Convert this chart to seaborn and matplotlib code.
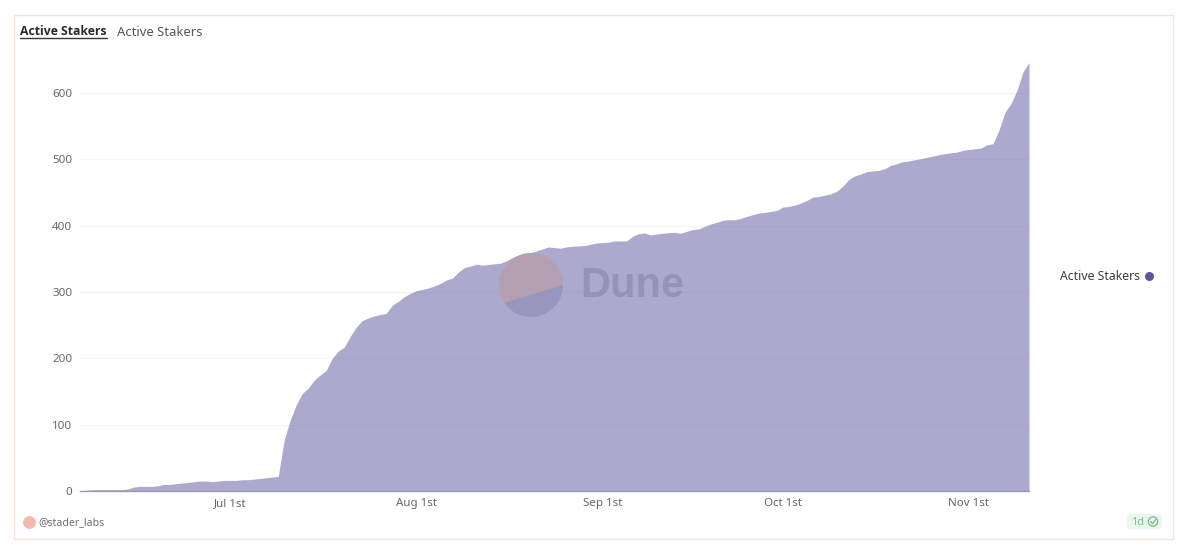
import numpy as np
import pandas as pd
import seaborn as sns
import matplotlib.dates as mdates
from matplotlib import pyplot as plt
from matplotlib.patches import Rectangle, FancyBboxPatch

# daily values, starting Jun 6th
start_date = "2022-06-06"
stakers = [
    0, 1, 2, 2, 2, 2, 2, 2, 3, 6, 7, 7, 7, 8, 10, 10, 11, 12, 13, 14, 15, 15, 14, 15, 16,
    16, 16, 17, 17, 18, 19, 20, 21, 22, 77, 107, 130, 147, 155, 167, 175, 182, 200, 211, 217,
    233, 247, 257, 261, 264, 266, 268, 280, 286, 293, 298,
    302, 304, 306, 309, 313, 318, 321, 330, 337, 339, 342, 340.5, 341.5, 342.5, 343.5, 347,
    352, 355, 358, 359, 362, 365, 368, 367, 366, 368, 369, 369.5, 370, 372, 374,
    374.5, 375, 377, 377, 377, 384, 388, 389, 386, 387.5, 388.5, 389.5, 390, 388.5, 391.5,
    394, 395, 399, 402.5, 405, 408, 409, 409, 411, 414, 416.5, 419, 420, 421.5, 423,
    428, 429, 431, 434, 438, 443, 444, 446, 448, 452, 459.5, 469.5, 475, 478, 481.5, 482.5,
    483.5, 486, 491, 493.5, 496.5, 497.5, 499.5, 501, 503, 505, 507, 508.5, 510, 511, 513.5,
    515, 516, 517, 522, 523.5, 544, 571, 584, 604, 632, 646,
]
y_ticks = [0, 100, 200, 300, 400, 500, 600]
x_tick_dates = ["2022-07-01", "2022-08-01", "2022-09-01", "2022-10-01", "2022-11-01"]
x_tick_labels = ["Jul 1st", "Aug 1st", "Sep 1st", "Oct 1st", "Nov 1st"]
series_name = "Active Stakers"

W, H = 1188, 553
PURPLE = "#5b55a0"
GREY = "#666666"

sns.set_theme(style="white")
plt.rcParams["font.family"] = ["Noto Sans", "DejaVu Sans"]

df = pd.DataFrame({
    "date": pd.date_range(start_date, periods=len(stakers), freq="D"),
    "stakers": stakers,
})

fig = plt.figure(figsize=(W / 100, H / 100), dpi=100, facecolor="white")
ax = fig.add_axes([80 / W, (H - 491) / H, 949 / W, 443 / H])

sns.lineplot(data=df, x="date", y="stakers", color=PURPLE, linewidth=0, ax=ax)
ax.fill_between(df["date"], df["stakers"], color=PURPLE, alpha=0.5, linewidth=0, zorder=2)

ax.set_xlim(df["date"].iloc[0], df["date"].iloc[-1])
ax.set_ylim(0, 443 / 0.6633)
ax.set_xticks(mdates.date2num(pd.to_datetime(x_tick_dates)))
ax.set_xticklabels(x_tick_labels)
ax.set_yticks(y_ticks)
ax.set_xlabel("")
ax.set_ylabel("")
ax.tick_params(axis="both", length=0, labelsize=8.3, labelcolor=GREY)
ax.tick_params(axis="x", pad=5)
ax.tick_params(axis="y", pad=5.5)
ax.grid(axis="y", color="#f5f4f1", linewidth=0.8, zorder=1)
ax.set_axisbelow(True)
sns.despine(ax=ax, left=True, top=True, right=True)
ax.spines["bottom"].set_color("#9a98b2")
ax.spines["bottom"].set_linewidth(1.0)

# card frame, tabs, watermark and footer go on an overlay in pixel coordinates
over = fig.add_axes([0, 0, 1, 1], facecolor="none")
over.set_xlim(0, W)
over.set_ylim(H, 0)
over.axis("off")

over.add_patch(Rectangle((13.5, 14.5), 1159, 524.5, fill=False, edgecolor="#f9e2de", linewidth=1))

over.text(20, 31.5, series_name, fontsize=8.8, fontweight="bold", family="Open Sans",
          color="#2b2b2b", va="center")
over.plot([20, 107], [37.5, 37.5], color="#3a3a3a", linewidth=1)
over.text(117, 32, series_name, fontsize=9.4, color="#555555", va="center")

# Dune logo: a circle cut by a slanted chord
cx, cy, r = 531, 285, 32
split = np.deg2rad(213.5)
upper = np.linspace(0, split, 80)
lower = np.linspace(split, 2 * np.pi, 60)
over.fill(cx + r * np.cos(upper), cy - r * np.sin(upper), color="#b59fb3", linewidth=0)
over.fill(cx + r * np.cos(lower), cy - r * np.sin(lower), color="#9896bf", linewidth=0)
over.text(580, 286, "Dune", fontsize=30, fontweight="bold", family="Liberation Sans",
          color="#9694b6", va="center")

# legend
over.text(1140, 276.5, series_name, fontsize=8.8, color="#3c3c3c", va="center", ha="right")
over.scatter([1149], [276], s=42, color=PURPLE, linewidth=0)

# footer
over.scatter([28.5], [521.5], s=85, color="#f3b8ac", linewidth=0)
over.text(38, 522.5, "@stader_labs", fontsize=7.6, color="#6e6e6e", va="center")

# freshness badge
over.add_patch(FancyBboxPatch((1128, 514.5), 33, 14, boxstyle="round,pad=0,rounding_size=2",
                              facecolor="#eaf7ec", edgecolor="#eaf7ec", linewidth=1))
over.text(1131, 522.5, "1d", fontsize=8, color="#78b98a", va="center")
over.scatter([1153], [521.5], s=45, facecolor="none", edgecolor="#78b98a", linewidth=0.9)
over.plot([1150.5, 1152.5, 1155.8], [521.5, 523.7, 519.5], color="#78b98a", linewidth=0.9)

fig.savefig("out.png", dpi=100)
